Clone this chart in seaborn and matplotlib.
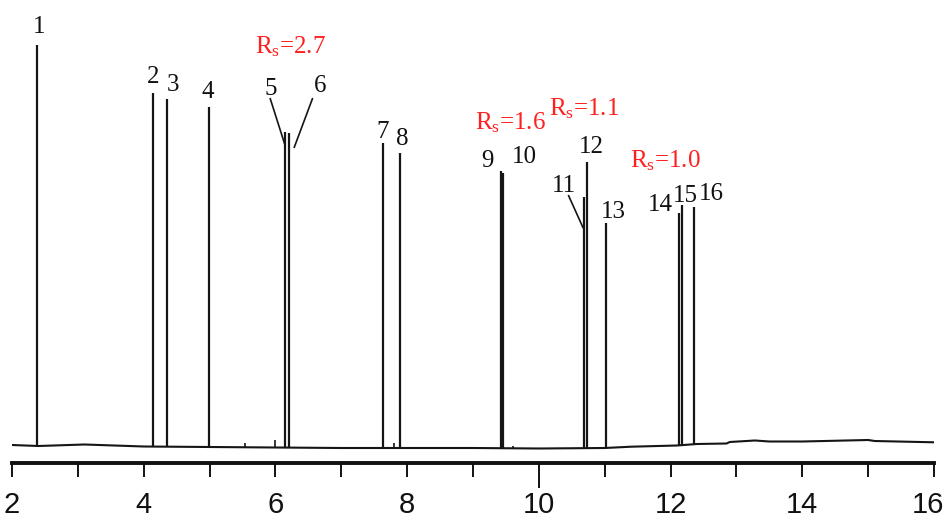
import numpy as np
import matplotlib
matplotlib.use("Agg")
import matplotlib.pyplot as plt
from matplotlib.transforms import ScaledTranslation
import seaborn as sns

# Retention times (min) and detector signal of the numbered peaks
peak_id = ["1", "2", "3", "4", "5", "6", "7", "8", "9", "10",
           "11", "12", "13", "14", "15", "16"]
peak_time = [2.375, 4.146, 4.349, 4.996, 6.145, 6.206, 7.638, 7.892,
             9.425, 9.463, 10.686, 10.731, 11.020, 12.135, 12.174, 12.363]
peak_signal = [418, 370, 364, 356, 331, 330, 320, 310,
               292, 290, 266, 301, 240, 250, 258, 256]

# Small unnumbered impurity peaks
minor_time = [5.54, 5.99, 7.80, 9.60]
minor_signal = [20.5, 23, 20, 17.5]

# Baseline of the trace
baseline_time = [2.0, 2.4, 3.1, 4.0, 5.0, 6.0, 7.0, 8.0, 9.0, 10.0, 11.0,
                 11.4, 12.1, 12.4, 12.85, 12.9, 13.28, 13.5, 14.0, 15.0,
                 15.1, 16.0]
baseline_signal = [18, 17, 18.5, 16.5, 16, 15.5, 15, 15, 15, 14.5, 15,
                   16.3, 17.5, 19, 19.5, 21, 22.5, 21.5, 21.5, 23,
                   22, 20.7]

# Resolution values of critical pairs
rs_text = ["2.7", "1.6", "1.1", "1.0"]

# Axis ticks
major_ticks = [2, 4, 6, 8, 10, 12, 14, 16]
minor_ticks = [3, 5, 7, 9, 11, 13, 15]

# Label placement (time, signal) for the peak numbers
label_x = [2.41, 4.149, 4.445, 4.968, 5.933, 6.677, 7.626, 7.93,
           9.22, 9.775, 10.38, 10.79, 11.126, 11.84, 12.227, 12.62]
label_y = [430, 380, 372, 365, 368, 371, 325, 318,
           296, 300, 271, 310, 245, 252, 261, 263]

# Placement of the resolution notes (centre, baseline)
rs_x = [6.235, 9.562, 10.689, 11.915]
rs_y = [410, 334, 348, 296]

# Leader lines from labels 5, 6 and 11 to their peaks
leaders = [((5.918, 6.145), (365, 318)),
           ((6.566, 6.282), (365, 315)),
           ((10.447, 10.675), (268, 234.7))]

sns.set_theme(style="white")
plt.rcParams["font.family"] = ["Liberation Serif", "DejaVu Serif"]
plt.rcParams["mathtext.default"] = "regular"

fig = plt.figure(figsize=(9.47, 5.19), dpi=100)
ax = fig.add_axes([12 / 947, 56 / 519, 922 / 947, 463 / 519])

trace_color = "#151515"

sns.lineplot(x=baseline_time, y=baseline_signal, ax=ax, color=trace_color,
             lw=1.5, estimator=None, sort=False)

foot = np.interp(peak_time, baseline_time, baseline_signal)
ax.vlines(peak_time, foot, peak_signal, colors=trace_color, lw=1.6)
minor_foot = np.interp(minor_time, baseline_time, baseline_signal)
ax.vlines(minor_time, minor_foot, minor_signal, colors=trace_color, lw=1.2)

for s, x, y in zip(peak_id, label_x, label_y):
    ax.text(x, y, s, ha="center", va="baseline", fontsize=18,
            color="#111111", clip_on=False)

for s, x, y in zip(rs_text, rs_x, rs_y):
    ax.text(x, y, "R$_{s}$=" + s, ha="center", va="baseline", fontsize=18,
            color="#ff1f1f", clip_on=False)

for xs, ys in leaders:
    ax.plot(xs, ys, color=trace_color, lw=1.2, solid_capstyle="butt")

ax.set_xlim(2, 16)
ax.set_ylim(0, 463)
for side in ("top", "left", "right"):
    ax.spines[side].set_visible(False)
ax.spines["bottom"].set_linewidth(2.8)
ax.spines["bottom"].set_color("#111111")

ax.set_yticks([])
ax.set_xticks(major_ticks, labels=[str(t) for t in major_ticks],
              fontfamily=["Liberation Sans Narrow", "Liberation Sans"],
              fontsize=21)
ax.set_xticks(minor_ticks, minor=True)
ax.tick_params(axis="x", which="both", direction="out", bottom=True,
               length=10, width=1.4, color="#111111")
ax.tick_params(axis="x", which="major", pad=10, labelcolor="#111111")
ax.patch.set_alpha(0)

# the tick at 10 min is drawn longer than the rest; the last label sits
# slightly inside the right edge
ticks = ax.xaxis.get_major_ticks()
for loc, tk in zip(ax.xaxis.get_majorticklocs(), ticks):
    if loc == 10:
        tk.tick1line.set_markersize(18)
last = ticks[-1].label1
last.set_transform(last.get_transform()
                   + ScaledTranslation(-6 / 100, 0, fig.dpi_scale_trans))

fig.savefig("out.png", dpi=100)
